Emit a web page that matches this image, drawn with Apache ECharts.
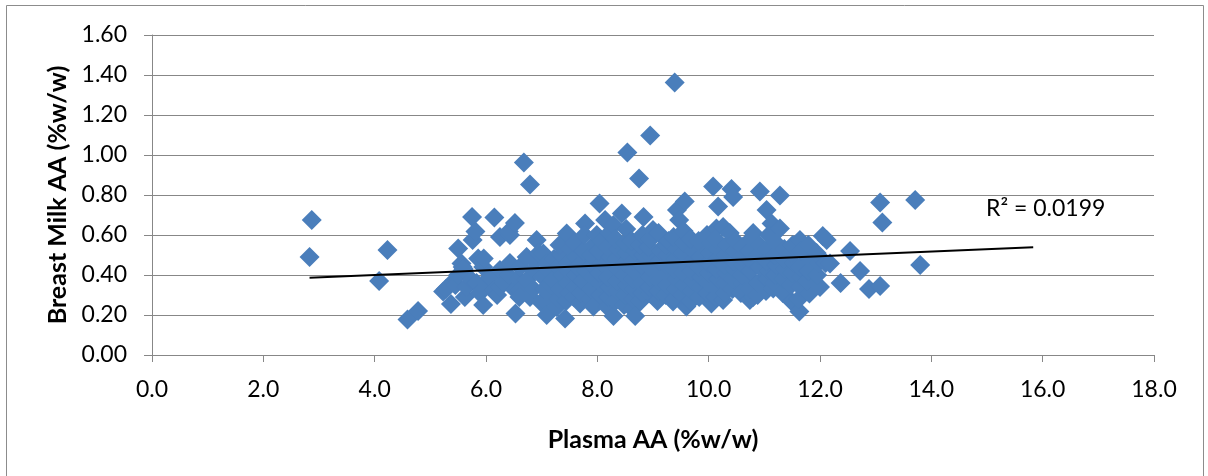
<!DOCTYPE html>
<html>
<head>
<meta charset="utf-8">
<script src="https://cdn.jsdelivr.net/npm/echarts@6/dist/echarts.min.js"></script>
<style>
  html, body { margin: 0; padding: 0; background: #ffffff; }
  #chart { width: 1208px; height: 476px; }
</style>
</head>
<body>
<div id="chart"></div>
<script>
// Plasma AA (%w/w) vs Breast Milk AA (%w/w), one [plasma, milk] pair per subject
const lowPlasma = [
  [2.87,0.675],[2.83,0.49],[4.23,0.525],[4.08,0.37],[4.59,0.178],[4.78,0.22],
  [5.23,0.317],[5.37,0.255],[5.41,0.367],[5.28,0.33],[5.45,0.35],[5.50,0.533],[5.50,0.40],
  [5.56,0.458],[5.58,0.44],[5.62,0.29],[5.65,0.34],[5.60,0.43],[5.74,0.375],[5.75,0.69],
  [5.76,0.575],[5.81,0.617],[5.83,0.36],[5.86,0.483],[5.89,0.31],[5.95,0.25],[5.95,0.44],
  [5.96,0.483],[6.00,0.36],[6.07,0.39],[6.13,0.325],[6.15,0.687],[6.20,0.30],[6.25,0.59],
  [6.25,0.34],[6.25,0.425],[6.31,0.36],[6.40,0.40],[6.43,0.60],[6.41,0.617],[6.43,0.46],[6.52,0.66],
  [6.52,0.325],[6.53,0.208],[6.58,0.38],[6.61,0.44],[6.61,0.325],[6.60,0.29],[6.68,0.963],
  [6.73,0.375],[6.73,0.49],[6.79,0.853],[6.79,0.29],[6.85,0.425],[6.85,0.33],[6.88,0.47]
];

const midPlasma = [
  [6.91,0.575],[6.95,0.51],[7.00,0.26],[7.03,0.508],[7.03,0.275],[7.02,0.39],[7.05,0.33],
  [7.09,0.20],[7.09,0.458],[7.12,0.42],[7.15,0.30],[7.18,0.35],[7.20,0.375],[7.22,0.48],
  [7.27,0.24],[7.28,0.44],[7.30,0.28],[7.33,0.33],[7.35,0.50],[7.38,0.40],[7.32,0.55],
  [7.42,0.183],[7.45,0.608],[7.44,0.27],[7.47,0.36],[7.46,0.46],[7.50,0.31],[7.52,0.53],[7.48,0.42],
  [7.58,0.29],[7.60,0.34],[7.62,0.49],[7.63,0.40],[7.59,0.56],[7.65,0.44],
  [7.69,0.258],[7.72,0.31],[7.74,0.37],[7.76,0.47],[7.78,0.658],[7.75,0.52],[7.80,0.42],[7.77,0.60],
  [7.88,0.28],[7.90,0.33],[7.91,0.39],[7.93,0.242],[7.92,0.45],[7.89,0.50],[7.94,0.55],
  [7.99,0.60],[8.04,0.758],[8.03,0.27],[8.05,0.30],[8.06,0.36],[8.04,0.41],[8.07,0.46],[8.02,0.52],[8.08,0.57],
  [8.14,0.675],[8.18,0.24],[8.20,0.29],[8.22,0.34],[8.19,0.39],[8.21,0.44],[8.23,0.49],[8.18,0.54],[8.22,0.61],
  [8.29,0.65],[8.29,0.195],[8.33,0.27],[8.36,0.32],[8.34,0.37],[8.37,0.43],[8.35,0.48],[8.38,0.53],[8.33,0.58],
  [8.44,0.708],[8.48,0.25],[8.50,0.30],[8.52,0.35],[8.49,0.40],[8.51,0.46],[8.53,0.51],[8.50,0.56],[8.52,0.63],
  [8.54,1.013],[8.63,0.23],[8.65,0.28],[8.66,0.33],[8.64,0.38],[8.67,0.42],[8.65,0.47],[8.68,0.52],[8.62,0.57],[8.68,0.195],
  [8.75,0.882],[8.83,0.69],[8.78,0.27],[8.81,0.31],[8.79,0.36],[8.82,0.41],[8.80,0.45],[8.83,0.50],[8.78,0.55],[8.81,0.60],
  [8.95,1.097],[8.95,0.308],[8.93,0.34],[8.96,0.39],[8.94,0.44],[8.97,0.49],[8.92,0.54],[8.96,0.58],[9.00,0.625],
  [9.08,0.27],[9.10,0.32],[9.12,0.37],[9.09,0.42],[9.11,0.47],[9.13,0.52],[9.10,0.61],
  [9.23,0.30],[9.25,0.35],[9.27,0.40],[9.24,0.45],[9.26,0.50],[9.22,0.55],[9.28,0.57],
  [9.36,0.267],[9.39,1.363],[9.38,0.28],[9.40,0.33],[9.42,0.38],[9.39,0.43],[9.41,0.48],[9.43,0.53],
  [9.37,0.59],[9.43,0.725],[9.47,0.675]
];

const highPlasma = [
  [9.57,0.767],[9.60,0.242],[9.53,0.30],[9.56,0.35],[9.55,0.41],[9.58,0.46],[9.54,0.51],[9.57,0.56],[9.55,0.62],
  [9.68,0.27],[9.70,0.32],[9.72,0.37],[9.69,0.42],[9.71,0.47],[9.73,0.52],[9.68,0.58],
  [9.83,0.29],[9.85,0.34],[9.87,0.39],[9.84,0.44],[9.86,0.49],[9.88,0.54],[9.82,0.57],
  [10.05,0.258],[10.08,0.843],[9.98,0.31],[10.00,0.36],[10.02,0.41],[9.99,0.46],[10.01,0.51],[10.03,0.56],[9.97,0.60],
  [10.14,0.633],[10.17,0.742],[10.13,0.29],[10.15,0.33],[10.17,0.38],[10.14,0.43],[10.16,0.48],[10.18,0.53],[10.12,0.58],
  [10.26,0.275],[10.26,0.64],[10.28,0.31],[10.30,0.36],[10.32,0.41],[10.29,0.45],[10.31,0.50],[10.33,0.55],[10.38,0.61],
  [10.41,0.83],[10.44,0.79],[10.43,0.33],[10.45,0.38],[10.47,0.43],[10.44,0.47],[10.46,0.52],[10.48,0.57],
  [10.62,0.358],[10.58,0.31],[10.60,0.40],[10.62,0.45],[10.59,0.49],[10.61,0.54],
  [10.74,0.275],[10.80,0.29],[10.80,0.61],[10.73,0.33],[10.76,0.38],[10.75,0.42],[10.77,0.47],[10.74,0.52],[10.76,0.58],
  [10.92,0.817],[10.88,0.30],[10.90,0.36],[10.92,0.44],[10.89,0.50],[10.91,0.55],
  [11.04,0.725],[11.13,0.658],[11.03,0.32],[11.05,0.38],[11.07,0.42],[11.04,0.47],[11.06,0.53],[11.08,0.60],
  [11.16,0.333],[11.28,0.797],[11.28,0.633],[11.18,0.36],[11.20,0.40],[11.22,0.45],[11.19,0.50],[11.21,0.56],
  [11.33,0.31],[11.35,0.38],[11.37,0.43],[11.34,0.48],[11.36,0.53],
  [11.49,0.267],[11.48,0.35],[11.50,0.41],[11.52,0.46],[11.49,0.51],[11.51,0.55],
  [11.63,0.217],[11.64,0.575],[11.62,0.28],[11.65,0.34],[11.67,0.39],[11.64,0.44],[11.66,0.52],
  [11.81,0.308],[11.78,0.37],[11.80,0.42],[11.82,0.48],[11.79,0.55],
  [12.00,0.34],[12.05,0.595],[12.12,0.575],[11.95,0.40],[11.97,0.46],[11.94,0.51],[12.10,0.46],
  [12.18,0.458],[12.37,0.36],[12.54,0.52],[12.72,0.42],[12.88,0.33],[13.08,0.345],
  [13.08,0.762],[13.12,0.662],[13.71,0.775],[13.80,0.45]
];

// Linear trend line: milk = trendIntercept + trendSlope * plasma
const trendSlope = 0.0117;
const trendIntercept = 0.3533;
const trendRange = [2.83, 15.83];
const trendLabel = 'R\u00B2 = 0.0199';

const xTicks = [0, 18, 2];      // min, max, step
const yTicks = [0, 1.6, 0.2];

const samples = lowPlasma.concat(midPlasma, highPlasma);
const trendPoints = trendRange.map(x => [x, trendIntercept + trendSlope * x]);

const FONT = 'Lato, "Open Sans", sans-serif';
const GRAY = '#878787';

const chart = echarts.init(document.getElementById('chart'), null, { renderer: 'canvas' });

chart.setOption({
  animation: false,
  backgroundColor: '#ffffff',
  grid: { left: 152, right: 54, top: 35, bottom: 121, containLabel: false },
  xAxis: {
    type: 'value',
    min: xTicks[0], max: xTicks[1], interval: xTicks[2],
    name: 'Plasma AA (%w/w)',
    nameLocation: 'middle',
    nameGap: 72,
    nameTextStyle: { fontFamily: FONT, fontSize: 25, fontWeight: 'bold', color: '#000' },
    axisLine: { show: true, onZero: false, lineStyle: { color: GRAY, width: 1 } },
    axisTick: { show: true, length: 7, lineStyle: { color: GRAY, width: 1 } },
    axisLabel: { formatter: v => v.toFixed(1), fontFamily: FONT, fontSize: 23, color: '#000', margin: 23 },
    splitLine: { show: false }
  },
  yAxis: {
    type: 'value',
    min: yTicks[0], max: yTicks[1], interval: yTicks[2],
    name: 'Breast Milk AA (%w/w)',
    nameLocation: 'middle',
    nameGap: 82,
    nameRotate: 90,
    nameTextStyle: { fontFamily: FONT, fontSize: 25, fontWeight: 'bold', color: '#000' },
    axisLine: { show: true, onZero: false, lineStyle: { color: GRAY, width: 1 } },
    axisTick: { show: true, length: 8, lineStyle: { color: GRAY, width: 1 } },
    axisLabel: { formatter: v => v.toFixed(2), fontFamily: FONT, fontSize: 23, color: '#000', margin: 25 },
    splitLine: { show: true, lineStyle: { color: GRAY, width: 1 } }
  },
  series: [
    {
      type: 'scatter',
      data: samples,
      symbol: 'diamond',
      symbolSize: 20,
      itemStyle: { color: '#4a7ebb', opacity: 1 },
      z: 2
    },
    {
      type: 'line',
      data: trendPoints,
      symbol: 'none',
      lineStyle: { color: '#000000', width: 2 },
      z: 5
    }
  ],
  graphic: [
    {
      type: 'rect',
      silent: true,
      z: -10,
      shape: { x: 6.5, y: 5.5, width: 1197, height: 480 },
      style: { fill: null, stroke: '#8c8c8c', lineWidth: 1 }
    },
    {
      type: 'text',
      silent: true,
      left: 986,
      top: 197,
      style: { text: trendLabel, font: '23px ' + FONT, fill: '#000' }
    }
  ]
});
</script>
</body>
</html>
